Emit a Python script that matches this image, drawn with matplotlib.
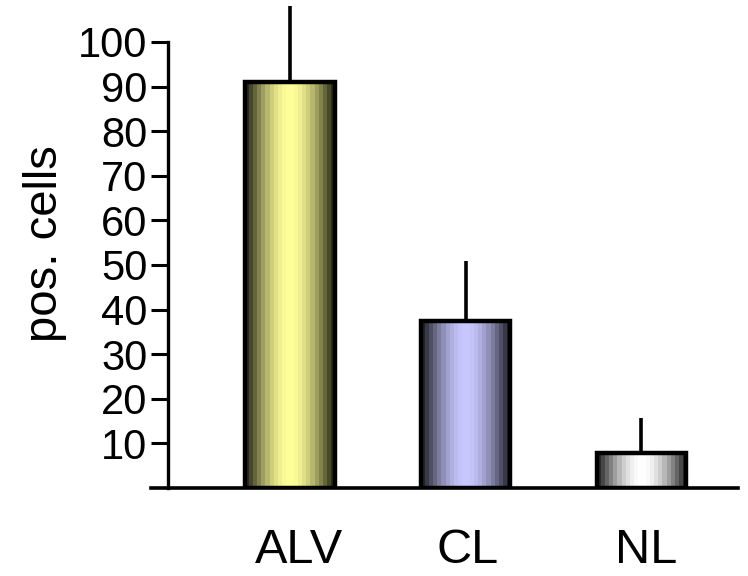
import numpy as np
import matplotlib
matplotlib.use("Agg")
import matplotlib.pyplot as plt
from matplotlib.colors import to_rgb

plt.rcParams['font.family'] = ['Liberation Sans', 'DejaVu Sans']

# values
groups = ['ALV', 'CL', 'NL']
means = [91.0, 37.4, 7.8]
errs = [17.0, 13.5, 7.9]
base_colors = ['#ffff99', '#c8c8ff', '#ffffff']
yticks = [10, 20, 30, 40, 50, 60, 70, 80, 90, 100]

fig = plt.figure(figsize=(7.48, 5.76), dpi=100)
ax = fig.add_axes([0.2019, 0.1528, 0.7847, 0.8472])

x = np.arange(len(groups))
w = 0.51

# stepped cylinder shading across each bar
nb = 22
t = (np.arange(nb) + 0.5) / nb
shade = 0.12 + 0.88 * np.sin(np.pi * t) ** 1.1

for xi, m, e, c in zip(x, means, errs, base_colors):
    rgb = np.array(to_rgb(c))
    img = (shade[:, None] * rgb[None, :])[None, :, :]
    ax.imshow(img, extent=(xi - w / 2, xi + w / 2, 0, m), aspect='auto',
              interpolation='nearest', zorder=2)
    ax.errorbar(xi, m, yerr=[[0], [e]], fmt='none', ecolor='black',
                elinewidth=2.6, capsize=0, zorder=1)

ax.bar(x, means, width=w, fill=False, edgecolor='black', linewidth=3.2,
       zorder=3)

ax.set_xlim(-0.79, 2.55)
ax.set_ylim(0, 109.4)

for s in ['top', 'right']:
    ax.spines[s].set_visible(False)
ax.spines['left'].set_position(('data', -0.693))
ax.spines['left'].set_bounds(0, 100)
ax.spines['left'].set_linewidth(2.4)
ax.spines['bottom'].set_linewidth(2.6)

ax.set_yticks(yticks)
ax.set_yticklabels([str(v) for v in yticks], fontsize=30)
ax.tick_params(axis='y', length=12, width=2.2, pad=3)

ax.set_xticks(x + np.array([0.05, 0.01, 0.03]))
ax.set_xticklabels(groups, fontsize=35)
ax.tick_params(axis='x', length=0, pad=29)

ax.set_ylabel('pos. cells', fontsize=34)
ax.yaxis.set_label_coords(-0.143, 0.5)

fig.savefig('out.png', dpi=100)
